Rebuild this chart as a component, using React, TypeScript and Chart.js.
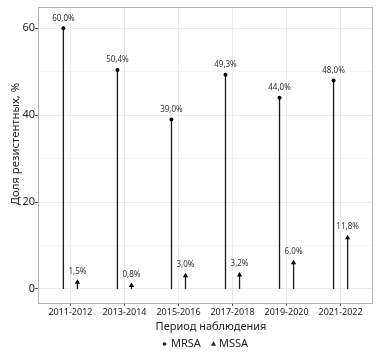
import React, { useEffect, useRef } from "react";
import { Chart, registerables } from "chart.js";

Chart.register(...registerables);

const categories = ["2011-2012", "2013-2014", "2015-2016", "2017-2018", "2019-2020", "2021-2022"];
const mrsa = [60.0, 50.4, 39.0, 49.3, 44.0, 48.0];
const mssa = [1.5, 0.8, 3.0, 3.2, 6.0, 11.8];
const seriesNames = ["MRSA", "MSSA"];
const yTicks = [0, 10, 20, 30, 40, 50, 60];
const yLabelTicks = [0, 20, 40, 60];

const FONT = "'Noto Sans', 'DejaVu Sans', sans-serif";
const DODGE = 0.13;

const fmt = (v: number) => v.toFixed(1).replace(".", ",") + "%";

const lollipopPlugin = {
  id: "lollipop",
  beforeDatasetsDraw(chart: any) {
    const ctx = chart.ctx;
    const y0 = chart.scales.y.getPixelForValue(0);
    ctx.save();
    ctx.strokeStyle = "#1a1a1a";
    ctx.lineWidth = 1.3;
    chart.data.datasets.forEach((_ds: any, di: number) => {
      const meta = chart.getDatasetMeta(di);
      meta.data.forEach((pt: any) => {
        ctx.beginPath();
        ctx.moveTo(pt.x, y0);
        ctx.lineTo(pt.x, pt.y);
        ctx.stroke();
      });
    });
    ctx.restore();
  },
  afterDatasetsDraw(chart: any) {
    const ctx = chart.ctx;
    ctx.save();
    ctx.fillStyle = "#333";
    ctx.font = `8px ${FONT}`;
    ctx.textAlign = "center";
    ctx.textBaseline = "middle";
    chart.data.datasets.forEach((ds: any, di: number) => {
      const meta = chart.getDatasetMeta(di);
      meta.data.forEach((pt: any, i: number) => {
        const off = di === 0 ? 10 : 11;
        ctx.fillText(fmt(ds.data[i].y), pt.x, pt.y - off);
      });
    });
    ctx.restore();
  },
  afterDraw(chart: any) {
    const ctx = chart.ctx;
    const a = chart.chartArea;
    ctx.save();
    // panel border
    ctx.strokeStyle = "#b3b3b3";
    ctx.lineWidth = 1;
    ctx.strokeRect(Math.round(a.left) + 0.5, Math.round(a.top) + 0.5, Math.round(a.right - a.left) - 1, Math.round(a.bottom - a.top));
    // axis titles
    ctx.fillStyle = "#222";
    ctx.textAlign = "center";
    ctx.textBaseline = "middle";
    ctx.font = `11px ${FONT}`;
    ctx.fillText("Период наблюдения", 211, 327);
    ctx.save();
    ctx.translate(16, 144);
    ctx.rotate(-Math.PI / 2);
    ctx.font = `11.3px ${FONT}`;
    ctx.fillText("Доля резистентных, %", 0, 0);
    ctx.restore();
    // legend
    ctx.font = `11px ${FONT}`;
    ctx.textAlign = "left";
    const y = 344;
    ctx.beginPath();
    ctx.arc(164.5, y, 1.8, 0, Math.PI * 2);
    ctx.fill();
    ctx.fillText(seriesNames[0], 171, y);
    ctx.beginPath();
    ctx.moveTo(213.5, y - 2.8);
    ctx.lineTo(216, y + 1.8);
    ctx.lineTo(211, y + 1.8);
    ctx.closePath();
    ctx.fill();
    ctx.fillText(seriesNames[1], 219, y);
    ctx.restore();
  },
};

export default function App() {
  const ref = useRef<HTMLCanvasElement>(null);
  useEffect(() => {
    if (!ref.current) return;
    const chart = new Chart(ref.current, {
      type: "scatter",
      data: {
        datasets: [
          {
            label: seriesNames[0],
            data: mrsa.map((v, i) => ({ x: i - DODGE, y: v })),
            pointStyle: "circle",
            pointRadius: 2,
            backgroundColor: "#000",
            borderColor: "#000",
            borderWidth: 0,
          },
          {
            label: seriesNames[1],
            data: mssa.map((v, i) => ({ x: i + DODGE, y: v })),
            pointStyle: "triangle",
            pointRadius: 3,
            backgroundColor: "#000",
            borderColor: "#000",
            borderWidth: 0,
          },
        ],
      },
      options: {
        responsive: false,
        animation: false,
        layout: { padding: { top: 3, right: 19, left: 0, bottom: 0 } },
        plugins: { legend: { display: false }, tooltip: { enabled: false } },
        scales: {
          x: {
            type: "linear",
            min: -0.6,
            max: 5.6,
            afterBuildTicks: (s: any) => {
              s.ticks = categories.map((_c, i) => ({ value: i }));
            },
            afterFit: (s: any) => {
              s.height = 54;
            },
            border: { display: false },
            grid: { color: "#ebebeb", lineWidth: 1, tickLength: 3, tickColor: "#555" },
            ticks: {
              padding: 1,
              maxRotation: 0,
              autoSkip: false,
              color: "#222",
              font: { family: FONT, size: 9 },
              callback: (v: any) => categories[Math.round(Number(v))] ?? "",
            },
          },
          y: {
            min: -3.25,
            max: 65,
            afterBuildTicks: (s: any) => {
              s.ticks = yTicks.map((v) => ({ value: v }));
            },
            afterFit: (s: any) => {
              s.width = 38;
            },
            border: { display: false },
            grid: {
              color: (c: any) => (yLabelTicks.includes(c.tick?.value) ? "#ebebeb" : "#f6f6f6"),
              lineWidth: 1,
              tickLength: 3,
              tickColor: (c: any) => (yLabelTicks.includes(c.tick?.value) ? "#555" : "rgba(0,0,0,0)"),
            },
            ticks: {
              padding: 0,
              color: "#222",
              font: { family: FONT, size: 11 },
              callback: (v: any) => (yLabelTicks.includes(Number(v)) ? String(v) : ""),
            },
          },
        },
      } as any,
      plugins: [lollipopPlugin],
    });
    return () => chart.destroy();
  }, []);
  return (
    <div style={{ position: "absolute", left: 0, top: 0, width: 392, height: 357, background: "#fff" }}>
      <canvas ref={ref} width={392} height={357} />
    </div>
  );
}
